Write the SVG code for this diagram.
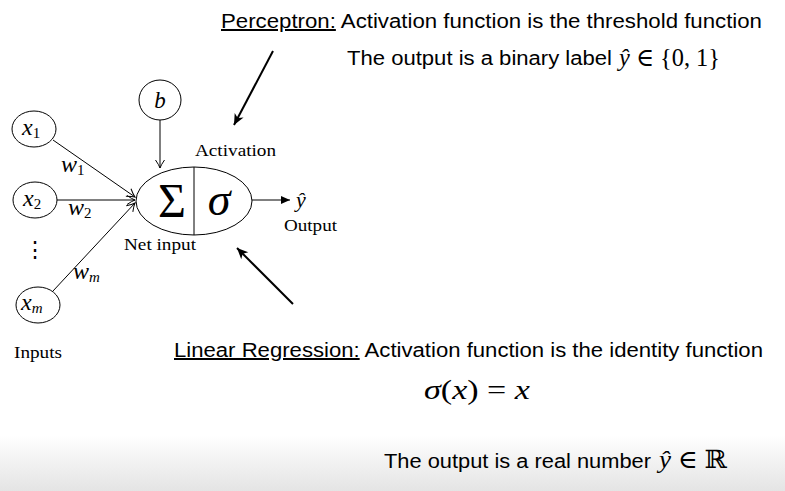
<svg xmlns="http://www.w3.org/2000/svg" width="785" height="491" viewBox="0 0 785 491">
<style>
.node{fill:#fff;stroke:#000;stroke-width:1}
.cm{font-family:"Liberation Serif","DejaVu Serif",serif;fill:#000}
.mi{font-family:"Liberation Serif","DejaVu Serif",serif;font-style:italic;fill:#000}
.sans{font-family:"Liberation Sans",Arial,sans-serif;fill:#000;font-size:20px}
.edge{stroke:#000;stroke-width:1;fill:none}
.bold{stroke:#000;stroke-width:2;fill:none}
</style>
<defs>
<marker id="open" viewBox="-10 -6 12 12" markerWidth="12" markerHeight="12" refX="0" refY="0" orient="auto" markerUnits="userSpaceOnUse">
<path d="M-8,-4.5 Q-3,-1 0,0 Q-3,1 -8,4.5" fill="none" stroke="#000" stroke-width="1"/>
</marker>
<marker id="fill" viewBox="-12 -6 14 12" markerWidth="14" markerHeight="12" refX="0" refY="0" orient="auto" markerUnits="userSpaceOnUse">
<path d="M-11,-5 L0,0 L-11,5 L-8,0 Z" fill="#000"/>
</marker>
<marker id="fillsm" viewBox="-10 -5 12 10" markerWidth="12" markerHeight="10" refX="0" refY="0" orient="auto" markerUnits="userSpaceOnUse">
<path d="M-9,-4 L0,0 L-9,4 Z" fill="#000"/>
</marker>
<linearGradient id="bg" x1="0" y1="0" x2="0" y2="1">
<stop offset="0" stop-color="#ffffff"/>
<stop offset="1" stop-color="#e4e4e4"/>
</linearGradient>
</defs>
<rect x="0" y="0" width="785" height="491" fill="#fff"/>
<rect x="0" y="435" width="785" height="56" fill="url(#bg)"/>

<g id="connectors">
<line class="edge" x1="53" y1="140" x2="135" y2="197" marker-end="url(#open)"/>
<line class="edge" x1="57" y1="200" x2="135" y2="200" marker-end="url(#open)"/>
<line class="edge" x1="53" y1="291" x2="135" y2="203" marker-end="url(#open)"/>
<line class="edge" x1="160" y1="120" x2="160" y2="168" marker-end="url(#open)"/>
<line class="edge" x1="252" y1="200" x2="290" y2="200" marker-end="url(#fillsm)"/>
<line class="bold" x1="273" y1="51" x2="234" y2="125" marker-end="url(#fill)"/>
<line class="bold" x1="293" y1="304" x2="237" y2="248" marker-end="url(#fill)"/>
</g>

<g id="x1">
<ellipse class="node" cx="34" cy="129" rx="22" ry="18"/>
<text class="mi" x="22" y="135" font-size="24">x<tspan class="cm" font-style="normal" font-size="15" dy="3">1</tspan></text>
</g>
<g id="x2">
<ellipse class="node" cx="35" cy="200" rx="22" ry="18"/>
<text class="mi" x="23" y="206" font-size="24">x<tspan class="cm" font-style="normal" font-size="15" dy="3">2</tspan></text>
</g>
<g id="xm">
<ellipse class="node" cx="38" cy="305" rx="22" ry="18"/>
<text class="mi" x="21" y="310" font-size="24">x<tspan font-size="15" dy="3">m</tspan></text>
</g>
<g id="b">
<ellipse class="node" cx="160" cy="100" rx="21" ry="20"/>
<text class="mi" x="160" y="108" font-size="23" text-anchor="middle">b</text>
</g>
<g id="neuron">
<ellipse class="node" cx="194" cy="201" rx="58" ry="34"/>
<line class="edge" x1="194" y1="167" x2="194" y2="235"/>
<text class="cm" x="172" y="217" font-size="48" text-anchor="middle">Σ</text>
<text class="mi" x="219" y="215" font-size="46" text-anchor="middle">σ</text>
</g>

<g id="labels">
<text class="mi" x="61" y="172" font-size="24">w<tspan class="cm" font-style="normal" font-size="15" dy="3">1</tspan></text>
<text class="mi" x="68" y="215" font-size="24">w<tspan class="cm" font-style="normal" font-size="15" dy="3">2</tspan></text>
<text class="mi" x="73" y="279" font-size="24">w<tspan font-size="15" dy="3">m</tspan></text>
<text class="cm" x="35" y="257" font-size="22" text-anchor="middle">⋮</text>
<text class="cm" x="14" y="358" font-size="17" textLength="48" lengthAdjust="spacingAndGlyphs">Inputs</text>
<text class="cm" x="195" y="156" font-size="17" textLength="81" lengthAdjust="spacingAndGlyphs">Activation</text>
<text class="cm" x="124" y="250" font-size="17" textLength="72" lengthAdjust="spacingAndGlyphs">Net input</text>
<text class="cm" x="284" y="231" font-size="17" textLength="53" lengthAdjust="spacingAndGlyphs">Output</text>
<text class="mi" x="301" y="207" font-size="22" text-anchor="middle">ŷ</text>
</g>

<g id="perceptron-note">
<text class="sans" x="221" y="28" textLength="541" lengthAdjust="spacingAndGlyphs"><tspan text-decoration="underline">Perceptron:</tspan> Activation function is the threshold function</text>
<text class="sans" x="347" y="65" textLength="265" lengthAdjust="spacingAndGlyphs">The output is a binary label</text>
<text class="mi" x="619" y="66" font-size="25" textLength="101" lengthAdjust="spacingAndGlyphs">ŷ <tspan font-style="normal">∈ {0, 1}</tspan></text>
</g>

<g id="regression-note">
<text class="sans" x="174" y="357" textLength="589" lengthAdjust="spacingAndGlyphs"><tspan text-decoration="underline">Linear Regression:</tspan> Activation function is the identity function</text>
<text class="mi" x="424" y="399" font-size="28" textLength="106" lengthAdjust="spacingAndGlyphs">σ<tspan font-style="normal">(</tspan>x<tspan font-style="normal">) = </tspan>x</text>
<text class="sans" x="384" y="468" textLength="267" lengthAdjust="spacingAndGlyphs">The output is a real number</text>
<text class="mi" x="659" y="468" font-size="25" textLength="68" lengthAdjust="spacingAndGlyphs">ŷ <tspan font-style="normal">∈ ℝ</tspan></text>
</g>
</svg>
